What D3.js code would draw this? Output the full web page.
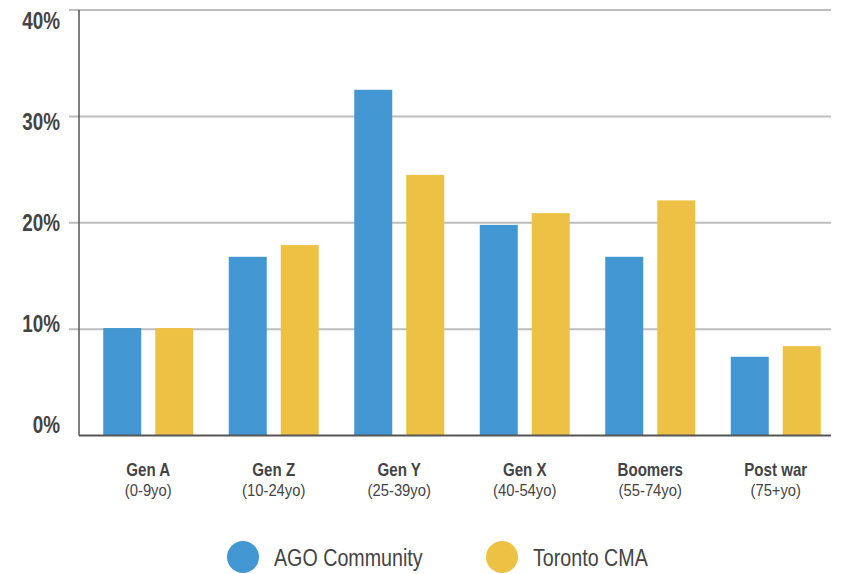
<!DOCTYPE html>
<html>
<head>
<meta charset="utf-8">
<script src="https://cdn.jsdelivr.net/npm/d3@7"></script>
<style>
    body { margin: 0; background: #fff; }
    svg { display: block; font-family: 'Liberation Sans', Arial, sans-serif; }
</style>
</head>
<body>
<svg id="chart" width="841" height="574"></svg>
<script>
'use strict';

// Data
const generations = ['Gen A', 'Gen Z', 'Gen Y', 'Gen X', 'Boomers', 'Post war'];
const ageRanges = ['(0-9yo)', '(10-24yo)', '(25-39yo)', '(40-54yo)', '(55-74yo)', '(75+yo)'];
const seriesNames = ['AGO Community', 'Toronto CMA'];
const agoValues = [10.1, 16.8, 32.5, 19.8, 16.8, 7.4];
const torontoValues = [10.1, 17.9, 24.5, 20.9, 22.1, 8.4];
const yTicks = [0, 10, 20, 30, 40];

(function () {

    const svg = d3.select('#chart');
    const colors = ['#4297d3', '#edc244'];

    const axisLeft = 79;
    const axisRight = 831;
    // condensed look: squeeze text horizontally
    const squeeze = 0.82;

    // Scales
    const scY = d3.scaleLinear()
        .domain([0, 40])
        .range([435.5, 10]);

    // tick labels sit on their own even spacing
    const scLabel = d3.scaleLinear()
        .domain([0, 40])
        .range([433, 29]);

    const scX = d3.scaleBand()
        .domain(generations)
        .range([85.5, 838.5]);

    const scInner = d3.scaleBand()
        .domain(seriesNames)
        .range([17.75, scX.bandwidth() - 17.75])
        .paddingInner(14 / 52);

    // Gridlines
    svg.append('g')
        .selectAll('line')
        .data(yTicks.filter((d) => d > 0))
        .enter()
        .append('line')
            .attr('x1', axisLeft - 10)
            .attr('x2', axisRight)
            .attr('y1', (d) => scY(d))
            .attr('y2', (d) => scY(d))
            .style('stroke', '#bdbdbd')
            .style('stroke-width', 2);

    // Y tick labels
    svg.append('g')
        .selectAll('text')
        .data(yTicks)
        .enter()
        .append('text')
            .attr('transform', (d) => `translate(60, ${scLabel(d)}) scale(${squeeze}, 1)`)
            .attr('text-anchor', 'end')
            .style('font-size', '23px')
            .style('font-weight', 'bold')
            .style('fill', '#444')
            .text((d) => d + '%');

    // Bars
    const rows = generations.map((g, i) => ({
        gen: g,
        values: [agoValues[i], torontoValues[i]]
    }));

    const groups = svg.append('g')
        .selectAll('g')
        .data(rows)
        .enter()
        .append('g')
            .attr('transform', (d) => `translate(${scX(d.gen)}, 0)`);

    groups.selectAll('rect')
        .data((d) => d.values.map((v, j) => ({ name: seriesNames[j], value: v, j: j })))
        .enter()
        .append('rect')
            .attr('x', (d) => scInner(d.name))
            .attr('y', (d) => scY(d.value))
            .attr('width', scInner.bandwidth())
            .attr('height', (d) => scY(0) - scY(d.value))
            .style('fill', (d) => colors[d.j]);

    // Axis lines
    svg.append('line')
        .attr('x1', axisLeft).attr('x2', axisLeft)
        .attr('y1', 10).attr('y2', scY(0))
        .style('stroke', '#555')
        .style('stroke-width', 1.5);

    svg.append('line')
        .attr('x1', axisLeft).attr('x2', axisRight)
        .attr('y1', scY(0)).attr('y2', scY(0))
        .style('stroke', '#555')
        .style('stroke-width', 2);

    // X labels
    const labels = svg.append('g')
        .selectAll('g')
        .data(generations)
        .enter()
        .append('g')
            .attr('transform', (d) => `translate(${scX(d) + scX.bandwidth() / 2}, 0)`);

    labels.append('text')
        .attr('transform', `translate(0, 476) scale(0.84, 1)`)
        .attr('text-anchor', 'middle')
        .style('font-size', '18px')
        .style('font-weight', 'bold')
        .style('fill', '#444')
        .text((d) => d);

    labels.append('text')
        .attr('transform', `translate(0, 495.5) scale(0.87, 1)`)
        .attr('text-anchor', 'middle')
        .style('font-size', '17px')
        .style('fill', '#444')
        .text((d, i) => ageRanges[i]);

    // Legend
    const legendX = [243, 502];
    const legend = svg.append('g')
        .selectAll('g')
        .data(seriesNames)
        .enter()
        .append('g')
            .attr('transform', (d, i) => `translate(${legendX[i]}, 557)`);

    legend.append('circle')
        .attr('r', 16)
        .style('fill', (d, i) => colors[i]);

    legend.append('text')
        .attr('transform', `translate(31, 9) scale(${squeeze}, 1)`)
        .style('font-size', '24px')
        .style('fill', '#444')
        .text((d) => d);

})();
</script>
</body>
</html>
